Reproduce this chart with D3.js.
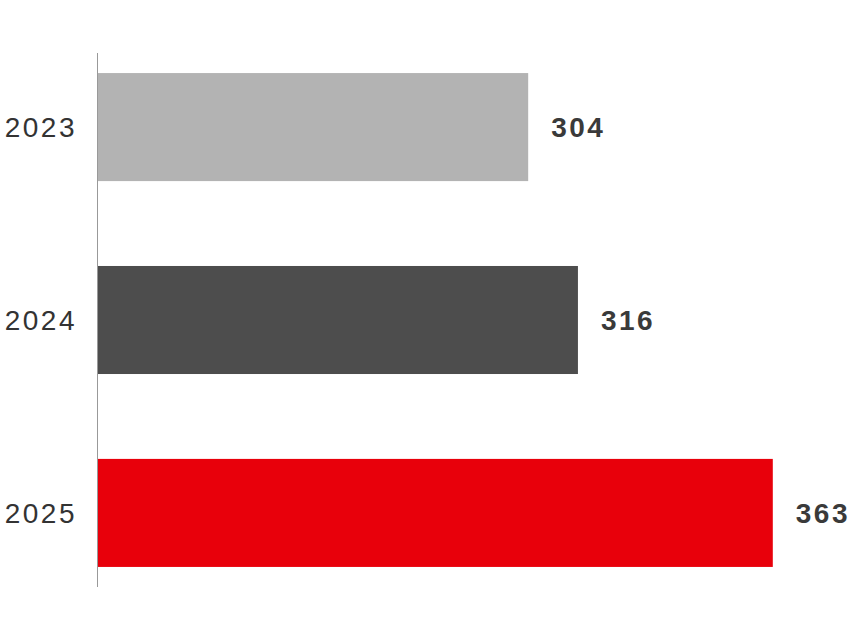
<!DOCTYPE html>
<html><head><meta charset="utf-8">
<script src="https://cdn.jsdelivr.net/npm/d3@7"></script>
<style>body{margin:0;background:#fff}svg{display:block}</style>
</head><body>
<svg id="c" width="855" height="640"></svg>
<script>
const years = ["2023", "2024", "2025"];
const values = [304, 316, 363];
const colors = ["#b3b3b3", "#4d4d4d", "#e8000b"];

const svg = d3.select("#c");
const x0 = 97;
const x = d3.scaleLinear().domain([200, 400]).range([x0, x0 + 200 * 4.146]);
const y = d3.scaleBand().domain(years).range([53, 587]).paddingInner(0.44).paddingOuter(0.104);

svg.selectAll("rect.bar").data(years).join("rect")
  .attr("class", "bar")
  .attr("x", x(200))
  .attr("y", d => y(d))
  .attr("width", (d, i) => x(values[i]) - x(200))
  .attr("height", y.bandwidth())
  .attr("fill", (d, i) => colors[i]);

svg.append("line").attr("x1", x0 + 0.5).attr("x2", x0 + 0.5).attr("y1", 53).attr("y2", 587)
  .attr("stroke", "#999").attr("stroke-width", 1);

svg.selectAll("text.year").data(years).join("text")
  .attr("class", "year")
  .attr("x", x0 - 20)
  .attr("y", d => y(d) + y.bandwidth() / 2)
  .attr("dy", "0.36em")
  .attr("text-anchor", "end")
  .attr("font-family", "Liberation Sans, Arial, sans-serif")
  .attr("font-size", 28)
  .attr("letter-spacing", "2.5px")
  .attr("fill", "#333")
  .text(d => d);

svg.selectAll("text.val").data(years).join("text")
  .attr("class", "val")
  .attr("x", (d, i) => x(values[i]) + 23)
  .attr("y", d => y(d) + y.bandwidth() / 2)
  .attr("dy", "0.36em")
  .attr("font-family", "Liberation Sans, Arial, sans-serif")
  .attr("font-weight", "bold")
  .attr("font-size", 28)
  .attr("letter-spacing", "2.5px")
  .attr("fill", "#3a3a3a")
  .text((d, i) => values[i]);
</script>
</body></html>
